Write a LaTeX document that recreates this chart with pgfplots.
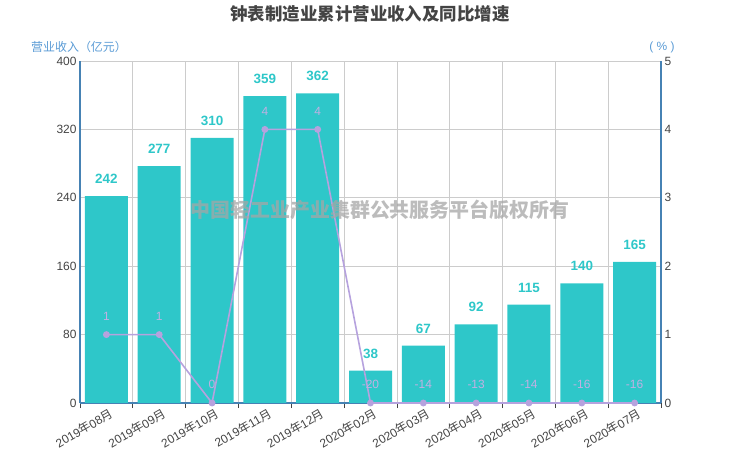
\documentclass[border=0pt]{standalone}
\usepackage{pgfplots}
\pgfplotsset{compat=1.18}
\usepackage{fontspec}
\setmainfont{Liberation Sans}
\newfontfamily\cjk{Noto Sans CJK SC}
\definecolor{barc}{HTML}{2EC7C9}
\definecolor{linec}{HTML}{B6A2DE}
\definecolor{axc}{HTML}{4682B4}
\definecolor{namec}{HTML}{5A9BD5}
\definecolor{labc}{HTML}{444444}
\definecolor{gridc}{HTML}{CCCCCC}
\newcommand\ny{{\cjk 年}}
\newcommand\yu{{\cjk 月}}
\begin{document}
\begin{tikzpicture}
\useasboundingbox (0bp,0bp) rectangle (740bp,462bp);
\begin{axis}[
  at={(80bp,59bp)}, anchor=south west,
  width=581bp, height=342bp, scale only axis,
  /pgf/number format/assume math mode=true,
  xmin=-0.5, xmax=10.5, ymin=0, ymax=400,
  axis x line*=bottom, axis y line*=left,
  axis line style={draw=axc, line width=2bp},
  ytick={0,80,...,400},
  xtick={0,...,10},
  minor xtick={-0.5,0.5,...,10.5},
  xticklabels={2019\ny08\yu,2019\ny09\yu,2019\ny10\yu,2019\ny11\yu,2019\ny12\yu,2020\ny02\yu,2020\ny03\yu,2020\ny04\yu,2020\ny05\yu,2020\ny06\yu,2020\ny07\yu},
  tick align=outside,
  major tick length=0pt, minor tick length=5bp,
  minor tick style={draw=labc, line width=0.8bp},
  ymajorgrids, xminorgrids,
  grid style={draw=gridc, line width=0.8bp},
  minor grid style={draw=gridc, line width=0.8bp},
  yticklabel style={font=\fontsize{12}{12}\selectfont, text=labc},
  xticklabel style={font=\fontsize{12}{12}\selectfont, text=labc, xshift=3bp, yshift=-3bp, rotate=30, anchor=north east, inner sep=1bp},
]
\addplot[ybar, bar width=43bp, fill=barc, draw=none,
  nodes near coords,
  nodes near coords style={font=\bfseries\fontsize{13.5}{13.5}\selectfont, text=barc, anchor=base, yshift=12.5bp, inner sep=0pt}]
coordinates {(0,242) (1,277) (2,310) (3,359) (4,362) (5,38) (6,67) (7,92) (8,115) (9,140) (10,165)};
\end{axis}
\begin{axis}[
  at={(80bp,59bp)}, anchor=south west,
  width=581bp, height=342bp, scale only axis,
  /pgf/number format/assume math mode=true,
  xmin=-0.5, xmax=10.5, ymin=0, ymax=5,
  axis x line=none, axis y line*=right,
  axis line style={draw=axc, line width=2bp},
  ytick={0,...,5},
  major tick length=0pt,
  yticklabel style={font=\fontsize{12}{12}\selectfont, text=labc},
  clip=false,
]
\addplot[color=linec, line width=1.6bp, mark=*, mark size=2.6bp,
  mark options={fill=linec, draw=linec},
  point meta=explicit symbolic,
  nodes near coords,
  nodes near coords style={font=\fontsize{12}{12}\selectfont, text=linec!85!white, anchor=base, yshift=14bp, inner sep=0pt}]
table[meta=lab] {
x y lab
0 1 1
1 1 1
2 0 0
3 4 4
4 4 4
5 0 -20
6 0 -14
7 0 -13
8 0 -14
9 0 -16
10 0 -16
};
\end{axis}
\node[font=\cjk\bfseries\fontsize{17.5}{17.5}\selectfont, text=labc] at (370bp,448bp) {钟表制造业累计营业收入及同比增速};
\node[font=\cjk\fontsize{12}{12}\selectfont, text=namec] at (79bp,415bp) {营业收入（亿元）};
\node[font=\fontsize{12}{12}\selectfont, text=namec] at (662bp,415bp) {( \% )};
\node[font=\cjk\bfseries\fontsize{20}{20}\selectfont, text=gray!70, opacity=0.75] at (380bp,252bp) {中国轻工业产业集群公共服务平台版权所有};
\end{tikzpicture}
\end{document}
